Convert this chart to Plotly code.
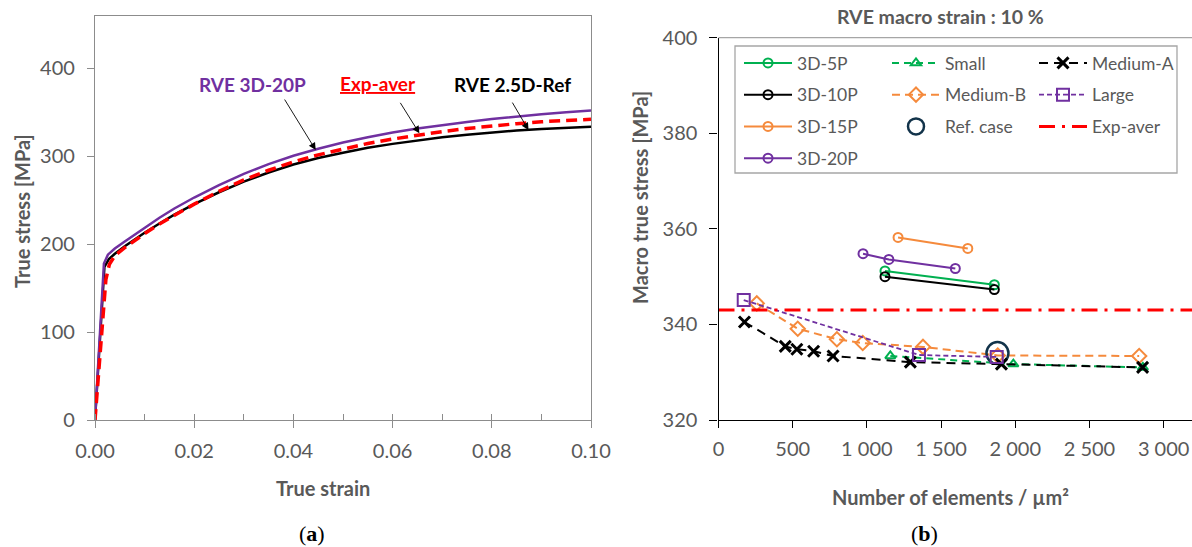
import plotly.graph_objects as go

W, H = 1192, 547
GRAY_TXT = "#595959"
SANS = "Lato"

# ---------- (a) true stress-strain curves ----------
strain_3d20p = [0, 0.0008, 0.0018, 0.0026, 0.004, 0.006, 0.008, 0.010, 0.013, 0.016, 0.020,
                0.025, 0.030, 0.035, 0.040, 0.045, 0.050, 0.055, 0.060, 0.065, 0.070,
                0.075, 0.080, 0.085, 0.090, 0.095, 0.100]
stress_3d20p = [0, 81, 178, 188, 195, 203, 211, 219, 230, 240.5, 253,
                267, 280, 291, 300.5, 308.5, 315.5, 321.5, 327, 331.5, 335.5,
                339, 342.3, 345.2, 347.8, 350, 352]

strain_25dref = [0, 0.0019, 0.0028, 0.004, 0.006, 0.008, 0.010, 0.013, 0.016, 0.020,
                 0.025, 0.030, 0.035, 0.040, 0.045, 0.050, 0.055, 0.060, 0.065, 0.070,
                 0.075, 0.080, 0.085, 0.090, 0.095, 0.100]
stress_25dref = [0, 174, 183, 189, 197.5, 205.5, 213, 223.5, 233.5, 245.5,
                 259, 271, 281.5, 290.5, 298, 304, 309.5, 314, 318, 321.5,
                 324.5, 327, 329.2, 331, 332.4, 333.5]

strain_exp = [0, 0.0006, 0.0012, 0.0019, 0.0022, 0.0029, 0.004, 0.006, 0.008, 0.010, 0.013,
              0.016, 0.020, 0.025, 0.030, 0.035, 0.040, 0.045, 0.050, 0.055, 0.060,
              0.065, 0.070, 0.075, 0.080, 0.085, 0.090, 0.095, 0.100]
stress_exp = [0, 45, 96, 142, 160, 177, 187, 196, 204.5, 212, 223,
              233, 245.5, 260, 273, 284, 293.5, 301.5, 308.5, 314.5, 319.5,
              324, 328, 331.5, 334.5, 337, 339.2, 340.8, 342]

strain_ticks = [0, 0.02, 0.04, 0.06, 0.08, 0.10]
stress_ticks = [0, 100, 200, 300, 400]

# ---------- (b) macro true stress vs mesh density ----------
n_3d5p = [1122, 1859]
s_3d5p = [351.2, 348.3]
n_3d10p = [1122, 1859]
s_3d10p = [350.0, 347.3]
n_3d15p = [1210, 1680]
s_3d15p = [358.2, 355.9]
n_3d20p = [974, 1148, 1596]
s_3d20p = [354.8, 353.6, 351.7]
n_small = [1158, 1987, 2860]
s_small = [333.4, 331.7, 331.0]
n_medium_a = [175, 450, 528, 641, 772, 1293, 1907, 2858]
s_medium_a = [340.5, 335.4, 334.8, 334.4, 333.4, 332.1, 331.7, 331.0]
n_medium_b = [258, 534, 798, 972, 1378, 1882, 2835]
s_medium_b = [344.4, 339.1, 336.9, 336.1, 335.3, 333.5, 333.4]
n_large = [170, 1351, 1875]
s_large = [345.1, 333.6, 333.2]
n_ref = [1880]
s_ref = [334.0]
exp_aver_level = 343.0
n_span = [0, 3191]

elem_ticks = [0, 500, 1000, 1500, 2000, 2500, 3000]
elem_tick_text = ["0", "500", "1 000", "1 500", "2 000", "2 500", "3 000"]
macro_ticks = [320, 340, 360, 380, 400]

GREEN, BLACK, ORANGE, PURPLE, RED = "#00B050", "#000000", "#F58A3C", "#7030A0", "#FF0000"


def fx(p):
    return p / W


def fy(p):
    return 1 - p / H


fig = go.Figure()

# (a) curves
fig.add_trace(go.Scatter(x=strain_25dref, y=stress_25dref, mode="lines",
                         line=dict(color=BLACK, width=2.5), showlegend=False,
                         xaxis="x", yaxis="y"))
fig.add_trace(go.Scatter(x=strain_3d20p, y=stress_3d20p, mode="lines",
                         line=dict(color=PURPLE, width=2.5), showlegend=False,
                         xaxis="x", yaxis="y"))
fig.add_trace(go.Scatter(x=strain_exp, y=stress_exp, mode="lines",
                         line=dict(color=RED, width=3.5, dash="11px,6px"), showlegend=False,
                         xaxis="x", yaxis="y"))

# (b) series
def series(x, y, name, color, symbol, size, dash, legend, width=2.0, mlw=2):
    return go.Scatter(
        x=x, y=y, name=name, mode="lines+markers",
        line=dict(color=color, width=width, dash=dash),
        marker=dict(symbol=symbol, size=size, color=color,
                    line=dict(color=color, width=mlw)),
        legend=legend, legendgroup=name, xaxis="x2", yaxis="y2")


fig.add_trace(series(n_3d5p, s_3d5p, "3D-5P", GREEN, "circle-open", 9, "solid", "legend"))
fig.add_trace(series(n_3d10p, s_3d10p, "3D-10P", BLACK, "circle-open", 9, "solid", "legend"))
fig.add_trace(series(n_3d15p, s_3d15p, "3D-15P", ORANGE, "circle-open", 9, "solid", "legend"))
fig.add_trace(series(n_3d20p, s_3d20p, "3D-20P", PURPLE, "circle-open", 9, "solid", "legend"))
fig.add_trace(series(n_small, s_small, "Small", GREEN, "triangle-up-open", 9, "7px,5px", "legend2"))
fig.add_trace(series(n_medium_b, s_medium_b, "Medium-B", ORANGE, "diamond-open", 11, "8px,5px", "legend2"))
fig.add_trace(go.Scatter(x=n_ref, y=s_ref, name="Ref. case", mode="markers",
                         marker=dict(symbol="circle-open", size=22, color="#12334A",
                                     line=dict(color="#12334A", width=2.5)),
                         legend="legend2", legendgroup="Ref. case", xaxis="x2", yaxis="y2"))
fig.add_trace(series(n_medium_a, s_medium_a, "Medium-A", BLACK, "x-thin", 11, "9px,6px",
                     "legend3", mlw=3))
fig.add_trace(series(n_large, s_large, "Large", PURPLE, "square-open", 12, "5px,3px", "legend3", width=1.8))
fig.add_trace(go.Scatter(x=n_span, y=[exp_aver_level] * 2, name="Exp-aver", mode="lines",
                         line=dict(color=RED, width=3, dash="16px,7px,3px,7px"),
                         legend="legend3", legendgroup="Exp-aver", xaxis="x2", yaxis="y2"))

axis_common = dict(showgrid=False, zeroline=False, showline=True, ticks="outside",
                   automargin=False,
                   tickfont=dict(family=SANS, size=20, color=GRAY_TXT))

fig.update_layout(
    width=W, height=H, margin=dict(l=0, r=0, t=0, b=0, autoexpand=False),
    paper_bgcolor="white", plot_bgcolor="white",
    font=dict(family=SANS, color=GRAY_TXT),
    xaxis=dict(domain=[fx(95), fx(591)], range=[0, 0.1], anchor="y",
               tickvals=strain_ticks, tickformat=".2f", ticklen=7, ticklabelstandoff=6,
               linecolor="#8C8C8C", linewidth=1.3, mirror=True, tickcolor="#8C8C8C",
               minor=dict(dtick=0.01, ticks="inside", ticklen=6, tickcolor="#8C8C8C"),
               **axis_common),
    yaxis=dict(domain=[fy(420), fy(15.5)], range=[0, 460], anchor="x",
               tickvals=stress_ticks, ticklen=7, ticklabelstandoff=8,
               linecolor="#8C8C8C", linewidth=1.3, mirror=True, tickcolor="#8C8C8C",
               **axis_common),
    xaxis2=dict(domain=[fx(718.5), 1.0], range=[0, 3191], anchor="y2",
                tickvals=elem_ticks, ticktext=elem_tick_text, ticklen=7, ticklabelstandoff=4,
                linecolor="#000000", linewidth=1.3, tickcolor="#000000",
                **axis_common),
    yaxis2=dict(domain=[fy(420), fy(37.7)], range=[320, 400], anchor="x2",
                tickvals=macro_ticks, ticklen=8, ticklabelstandoff=8,
                linecolor="#000000", linewidth=1.3, tickcolor="#000000",
                **axis_common),
)

legend_common = dict(xanchor="left", yanchor="top", bgcolor="rgba(0,0,0,0)",
                     borderwidth=0, traceorder="grouped", tracegroupgap=6,
                     itemwidth=48, itemclick=False,
                     font=dict(family=SANS, size=17.5, color=GRAY_TXT))
fig.update_layout(
    legend=dict(x=fx(739), y=fy(45), **legend_common),
    legend2=dict(x=fx(887), y=fy(45), **legend_common),
    legend3=dict(x=fx(1034), y=fy(45), **legend_common),
)

# legend frame and top border of panel (b)
fig.add_shape(type="rect", xref="paper", yref="paper",
              x0=fx(735), x1=fx(1177), y0=fy(173), y1=fy(46),
              line=dict(color="#A6A6A6", width=1.3), fillcolor="rgba(0,0,0,0)", layer="below")
fig.add_shape(type="line", xref="x2 domain", yref="y2 domain", x0=0, x1=1, y0=1, y1=1,
              line=dict(color="#A6A6A6", width=1.3))


def text(xp, yp, s, size=20, color=GRAY_TXT, family=SANS, angle=0):
    fig.add_annotation(x=fx(xp), y=fy(yp), xref="paper", yref="paper", text=s,
                       showarrow=False, textangle=angle, xanchor="center", yanchor="middle",
                       font=dict(family=family, size=size, color=color))


# axis titles, panel title and panel labels
text(22, 211, "<b>True stress [MPa]</b>", angle=-90)
text(323, 488, "<b>True strain</b>")
text(640, 198, "<b>Macro true stress [MPa]</b>", angle=-90)
text(950, 497, "<b>Number of elements / µm²</b>")
text(940, 17, "<b>RVE macro strain : 10 %</b>", size=19.5)
text(312, 533, "(<b>a</b>)", size=22, color="#000000", family="Liberation Serif")
text(924, 533, "(<b>b</b>)", size=22, color="#000000", family="Liberation Serif")

# curve labels in (a)
text(252, 84, "<b>RVE 3D-20P</b>", size=19, color=PURPLE)
text(378, 83, "<b><u>Exp-aver</u></b>", size=19, color=RED)
text(512, 85, "<b>RVE 2.5D-Ref</b>", size=19, color="#000000")

for hx, hy, ax, ay in [(0.0445, 307, -32, -52), (0.0654, 326, -20, -32), (0.0874, 329.7, -17, -29)]:
    fig.add_annotation(x=hx, y=hy, xref="x", yref="y", ax=ax, ay=ay, text="",
                       showarrow=True, arrowhead=2, arrowsize=1.6, arrowwidth=0.9,
                       arrowcolor="#000000")

fig.write_html("out.html")
